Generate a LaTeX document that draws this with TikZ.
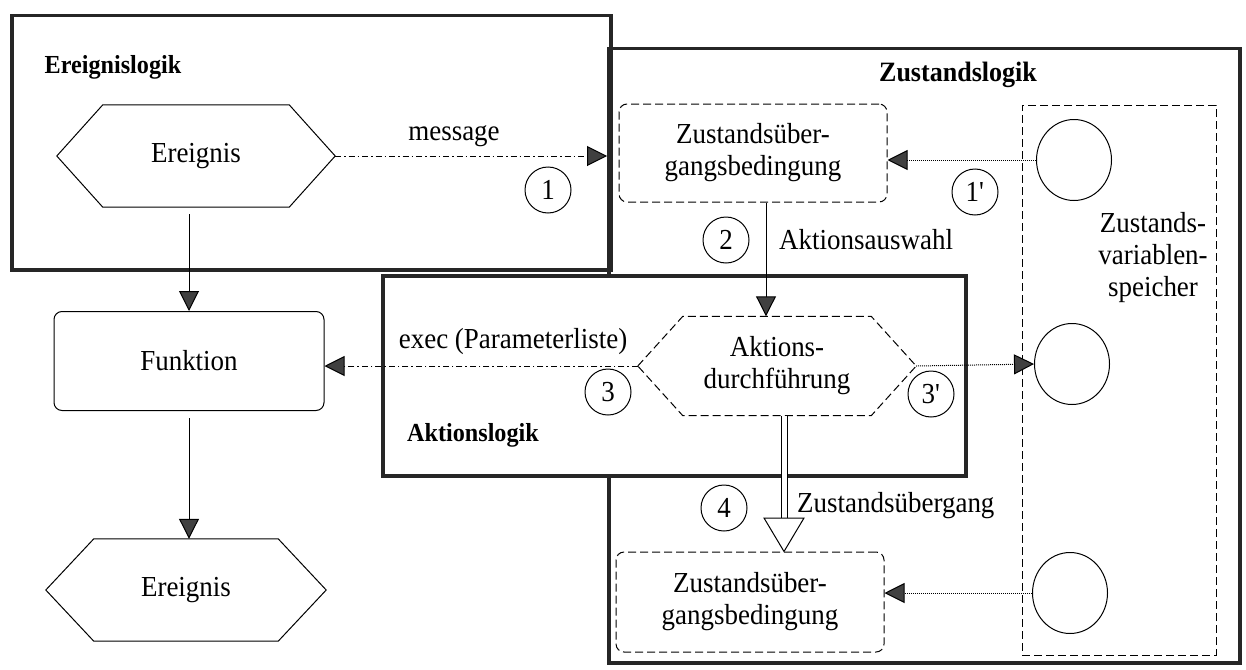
\documentclass[tikz,border=0pt]{standalone}
\usepackage{fontspec}
\setmainfont{Liberation Serif}[FakeStretch=0.93]
\usetikzlibrary{arrows.meta,calc,shapes.geometric}

\tikzset{
  frame/.style={draw=black!85, line width=3.5pt, inner sep=0pt},
  lbl/.style={font=\fontsize{29}{32}\selectfont, align=center, inner sep=0pt},
  head/.style={font=\fontsize{26}{30}\selectfont\bfseries, inner sep=0pt},
  num/.style={circle, draw, line width=1pt, minimum size=46pt, inner sep=0pt,
    font=\fontsize{29}{32}\selectfont},
  var/.style={ellipse, draw, line width=1pt, minimum width=75pt, minimum height=81pt, inner sep=0pt},
  dbox/.style={draw, line width=1pt, dash pattern=on 8pt off 4pt, rounded corners=8pt},
  hexbox/.style={lbl, minimum width=#1, minimum height=100pt},
  flow/.style={line width=1pt, -{Triangle[length=20pt,width=20pt,fill=black!75]}},
  dashdot/.style={dash pattern=on 6pt off 3pt on 1.5pt off 3pt},
  fine/.style={dash pattern=on 1pt off 1pt},
}

% hexagon around a node: #1 draw options, #2 node name, #3 horizontal inset of the corners
\newcommand{\drawhex}[3][]{%
  \draw[line width=1pt,#1] (#2.west) -- ($(#2.north west)+(#3,0)$) -- ($(#2.north east)+(-#3,0)$)
    -- (#2.east) -- ($(#2.south east)+(-#3,0)$) -- ($(#2.south west)+(#3,0)$) -- cycle;}

\begin{document}
\begin{tikzpicture}[x=1pt,y=-1pt]
\useasboundingbox (0,0) rectangle (1246,669);

% the three logic frames
\node[frame, minimum width=631pt, minimum height=614pt, anchor=north west] (zl) at (607,47) {};
\node[frame, minimum width=599pt, minimum height=254pt, anchor=north west] (el) at (10,14) {};
\node[frame, fill=white, minimum width=583pt, minimum height=200pt, anchor=north west] (al) at (381,274) {};

\node[head] at (113,67) {Ereignislogik};
\node[head, font=\fontsize{28}{32}\selectfont\bfseries] at (958,75) {Zustandslogik};
\node[head] at (473,435) {Aktionslogik};

% event / function chain
\node[hexbox=278pt, minimum height=102pt] (ev1) at (196,156) {Ereignis};
\drawhex{ev1}{46}
\node[lbl, draw, line width=1pt, rounded corners=8pt, minimum width=270pt, minimum height=99pt] (fun) at (189,361) {Funktion};
\node[hexbox=280pt, minimum height=102pt] (ev2) at (186,590) {Ereignis};
\drawhex{ev2}{48}

% state logic
\node[lbl, dbox, minimum width=268pt, minimum height=98pt] (z1) at (753,153) {Zustandsüber-\\gangsbedingung};
\node[lbl, dbox, minimum width=268pt, minimum height=100pt] (z2) at (750,602) {Zustandsüber-\\gangsbedingung};
\node[draw, line width=1pt, dash pattern=on 8pt off 4pt, minimum width=194pt, minimum height=550pt, inner sep=0pt] (zv) at (1119,380) {};
\node[lbl] at (1153,258) {Zustands-\\variablen-\\speicher};
\node[var] (cv1) at (1074,160) {};
\node[var] (cv2) at (1072,364) {};
\node[var] (cv3) at (1070,593) {};

% action execution
\node[hexbox=278pt, minimum height=99pt] (akt) at (777,366) {Aktions-\\durchführung};
\drawhex[dash pattern=on 8pt off 4pt]{akt}{45}

% numbered steps
\node[num] (n1) at (548,190) {1};
\node[num] (n1b) at (975,192) {1\textquotesingle};
\node[num] (n2) at (726,240) {2};
\node[num] (n3) at (608,392) {3};
\node[num] (n3b) at (931,394) {3\textquotesingle};
\node[num] (n4) at (724,508) {4};

% connector labels
\node[lbl] at (454,136) {message};
\node[lbl, anchor=west] at (779,240) {Aktionsauswahl};
\node[lbl] at (513,342) {exec (Parameterliste)};
\node[lbl, anchor=west] at (797,506) {Zustandsübergang};

% connectors
\coordinate (a2) at (766,0);
\coordinate (a4) at (784,0);
\coordinate (hb) at (784,518);
\draw[flow, shorten <=7pt] (ev1.south -| fun.north) -- (fun.north);
\draw[flow, shorten <=7pt] (fun.south) -- (fun.south |- ev2.north);
\draw[flow, dashdot] (ev1.east) -- (ev1.east -| zl.west);
\draw[flow, fine] (cv1.west) -- (cv1.west -| z1.east);
\draw[flow] (z1.south -| a2) -- (akt.north -| a2);
\draw[flow, dashdot] (akt.west) -- (akt.west -| fun.east);
\draw[flow, fine] (akt.east) -- (cv2.west);
\draw[flow, fine] (cv3.west) -- (cv3.west -| z2.east);
\draw[line width=1pt, double distance=5pt] (akt.south -| a4) -- (hb);
\draw[line width=1pt, fill=white] ($(hb)+(-20,0)$) -- (z2.north -| a4) -- ($(hb)+(20,0)$) -- cycle;
\end{tikzpicture}
\end{document}
